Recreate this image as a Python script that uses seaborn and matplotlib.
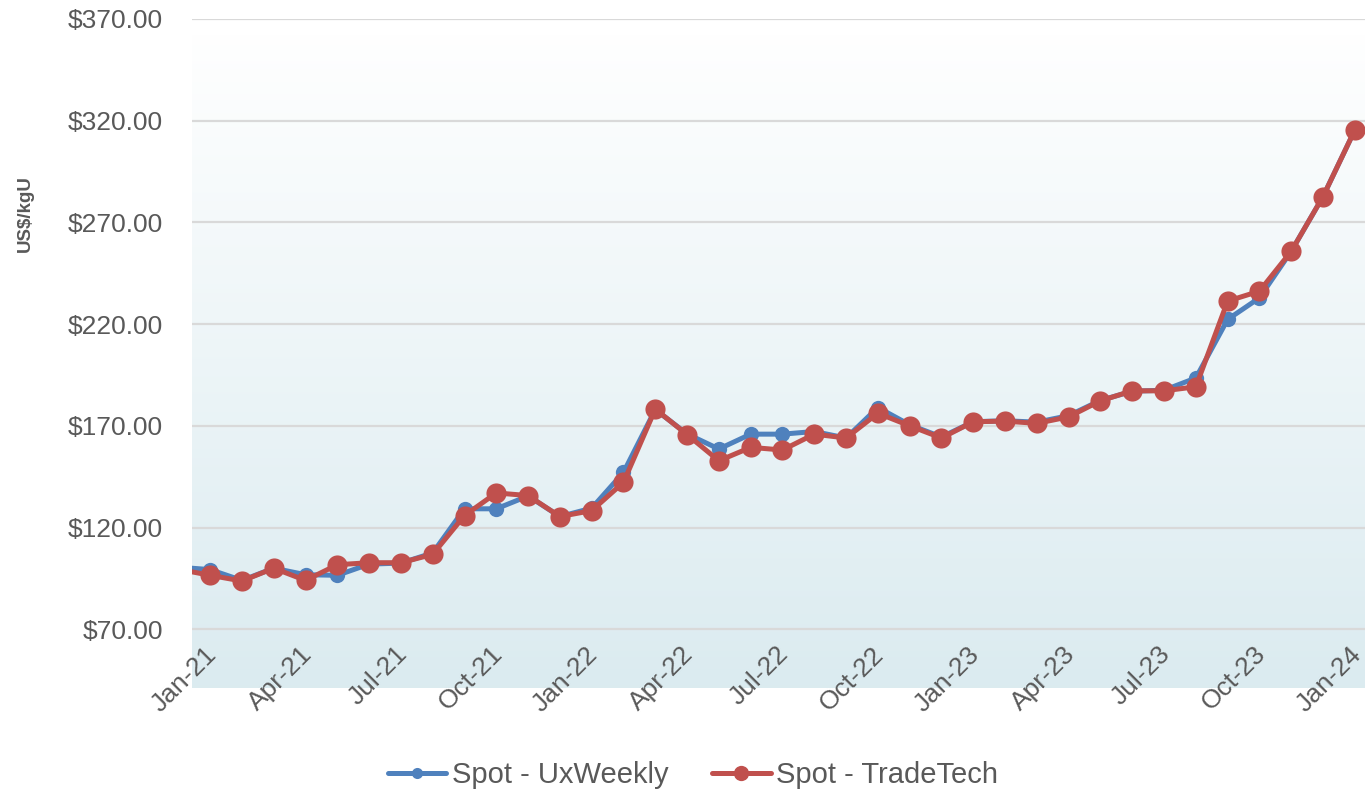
import numpy as np
import pandas as pd
import matplotlib
matplotlib.use("Agg")
import matplotlib.pyplot as plt
import matplotlib.transforms as mtransforms
from matplotlib.lines import Line2D
import seaborn as sns

# ---- data ----
months = ["Dec-20",
          "Jan-21", "Feb-21", "Mar-21", "Apr-21", "May-21", "Jun-21",
          "Jul-21", "Aug-21", "Sep-21", "Oct-21", "Nov-21", "Dec-21",
          "Jan-22", "Feb-22", "Mar-22", "Apr-22", "May-22", "Jun-22",
          "Jul-22", "Aug-22", "Sep-22", "Oct-22", "Nov-22", "Dec-22",
          "Jan-23", "Feb-23", "Mar-23", "Apr-23", "May-23", "Jun-23",
          "Jul-23", "Aug-23", "Sep-23", "Oct-23", "Nov-23", "Dec-23",
          "Jan-24"]
uxweekly = [100.5,
            99.3, 94.0, 100.0, 96.8, 96.5, 102.0,
            102.5, 107.5, 129.2, 129.2, 135.5, 125.4,
            129.5, 147.1, 178.0, 166.0, 158.6, 165.9,
            165.9, 167.2, 164.0, 179.0, 170.5, 164.5,
            172.0, 172.5, 171.8, 175.0, 182.5, 187.0,
            187.5, 193.5, 222.3, 232.9, 255.8, 282.7,
            315.4]
tradetech = [99.5,
             96.5, 93.7, 100.0, 94.0, 101.7, 102.7,
             102.7, 106.8, 125.9, 137.0, 135.7, 125.4,
             128.3, 142.2, 178.2, 165.7, 152.8, 159.4,
             158.1, 165.9, 164.0, 176.2, 170.0, 164.0,
             172.0, 172.3, 171.2, 174.4, 182.3, 187.2,
             187.2, 189.2, 231.3, 236.2, 255.8, 282.7,
             315.4]
tick_labels = ["Jan-21", "Apr-21", "Jul-21", "Oct-21", "Jan-22", "Apr-22",
               "Jul-22", "Oct-22", "Jan-23", "Apr-23", "Jul-23", "Oct-23",
               "Jan-24"]
y_ticks = [70, 120, 170, 220, 270, 320, 370]
series_names = ["Spot - UxWeekly", "Spot - TradeTech"]

BLUE = "#4f81bd"
RED = "#c0504d"
TEXT = "#595959"

sns.set_theme(style="white")
plt.rcParams["font.family"] = ["Liberation Sans", "DejaVu Sans"]

x_pos = np.arange(len(months)) - months.index("Jan-21")
df = pd.DataFrame({"x": x_pos, "ux": uxweekly, "tt": tradetech})

fig = plt.figure(figsize=(13.65, 7.91), dpi=100)
ax = fig.add_axes([192 / 1365, 1 - 688 / 791, 1 - 192 / 1365, (688 - 19) / 791])

xmin, xmax = -0.57, 36.32
ymin, ymax = 41.1, 370

# gradient plot-area background
grad = np.linspace(0, 1, 256).reshape(-1, 1)
top_c = np.array([0.998, 0.999, 0.999])
bot_c = np.array([0.859, 0.922, 0.941])
img = top_c * (1 - grad)[..., None] + bot_c * grad[..., None]
img = img.reshape(256, 1, 3)
ax.imshow(img, extent=(xmin, xmax, ymin, 362.0), aspect="auto", zorder=0,
          interpolation="bilinear")

sns.lineplot(data=df, x="x", y="ux", ax=ax, color=BLUE, lw=3.6, marker="o",
             markersize=11, markeredgewidth=0, zorder=3)
sns.lineplot(data=df, x="x", y="tt", ax=ax, color=RED, lw=3.6, marker="o",
             markersize=14.5, markeredgewidth=0, zorder=4)

ax.set_xlim(xmin, xmax)
ax.set_ylim(ymin, ymax)

# y axis
ax.set_yticks(y_ticks)
ax.set_yticklabels([f"${v:.2f}" for v in y_ticks], fontsize=19, color=TEXT)
ax.tick_params(axis="y", length=0, pad=21)
ax.yaxis.grid(True, color="#d9d9d9", lw=1.6, zorder=1)
ax.xaxis.grid(False)
ax.set_axisbelow(True)

# x axis
tick_pos = [months.index(m) - months.index("Jan-21") for m in tick_labels]
ax.set_xticks(tick_pos)
ax.set_xticklabels(tick_labels, fontsize=19, color=TEXT, rotation=45,
                   ha="right", va="top", rotation_mode="anchor")
ax.tick_params(axis="x", length=0, pad=0)
offset = mtransforms.ScaledTranslation(-6 / 100, 46 / 100, fig.dpi_scale_trans)
for lab in ax.get_xticklabels():
    lab.set_transform(lab.get_transform() + offset)

ax.set_xlabel("")
ax.set_ylabel("")
for s in ax.spines.values():
    s.set_visible(False)

fig.text(25 / 1365, 1 - 214 / 791, "US$/kgU", rotation=90, fontsize=13.5,
         fontweight="bold", color=TEXT, ha="center", va="center")

handles = [Line2D([], [], color=BLUE, lw=3.6, marker="o", markersize=8,
                  markeredgewidth=0),
           Line2D([], [], color=RED, lw=3.6, marker="o", markersize=11,
                  markeredgewidth=0)]
fig.legend(handles, series_names, loc="center", bbox_to_anchor=(693 / 1365, 1 - 775 / 791),
           ncol=2, frameon=False, fontsize=21, handlelength=2.0,
           handletextpad=0.2, columnspacing=1.5, labelcolor=TEXT,
           borderpad=0, borderaxespad=0)

fig.savefig("out.png", dpi=100)
